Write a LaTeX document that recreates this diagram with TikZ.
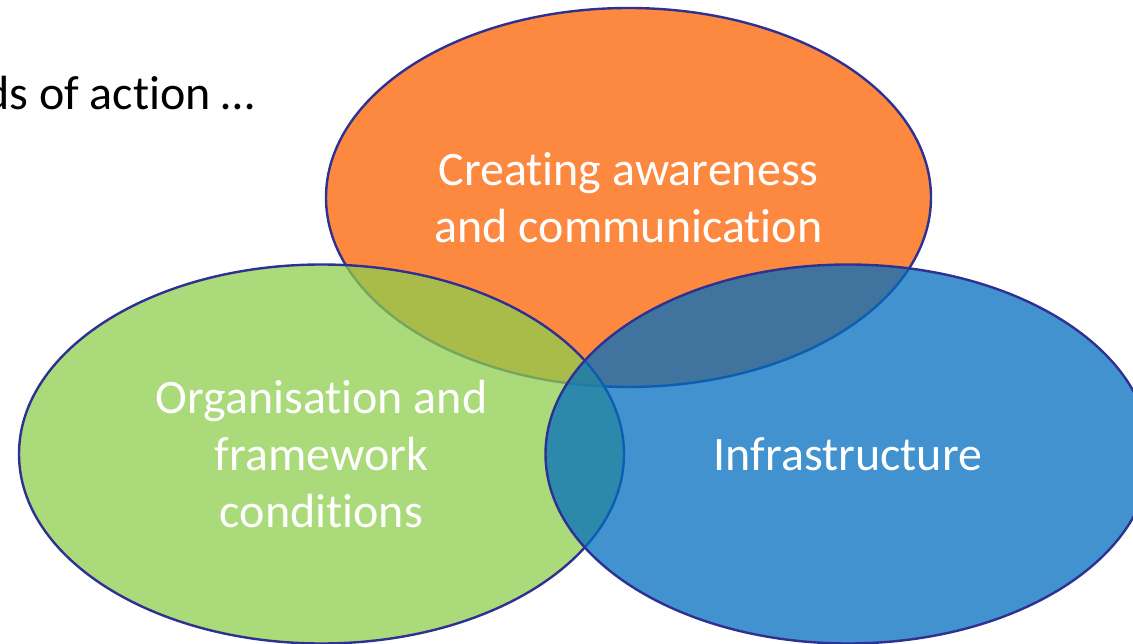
\documentclass[tikz,border=0pt]{standalone}
\usepackage{fontspec}
\setmainfont[Ligatures={NoCommon}]{Carlito}
\usetikzlibrary{shapes.geometric}
\definecolor{edgenavy}{RGB}{46,48,146}
\definecolor{orangefill}{RGB}{253,137,64}
\definecolor{greenfill}{RGB}{142,206,78}
\definecolor{bluefill}{RGB}{2,110,190}
\tikzset{
  venn/.style={ellipse, draw=edgenavy, line width=2.4pt, minimum width=605pt, minimum height=379pt,
    inner sep=0pt, text=white, text opacity=1, align=center,
    font=\fontsize{48}{57}\selectfont},
  lbl/.style={inner sep=0pt, anchor=base west, font=\fontsize{48}{57}\selectfont, text=black}
}
\begin{document}
\begin{tikzpicture}[x=1pt,y=-1pt]
\useasboundingbox (0,0) rectangle (1133,644);
\clip (0,0) rectangle (1133,644);
\fill[white] (0,0) rectangle (1133,644);
\node[lbl] (title) at (-16,110) {ds of action …};
\node[venn, fill=orangefill] (aware) at (628.5,197.5) {Creating awareness\\and communication};
\node[venn, fill=greenfill, fill opacity=0.75] (org) at (321.5,454) {Organisation and\\framework\\conditions};
\node[venn, fill=bluefill, fill opacity=0.75] (infra) at (848,454) {Infrastructure};
\end{tikzpicture}
\end{document}
